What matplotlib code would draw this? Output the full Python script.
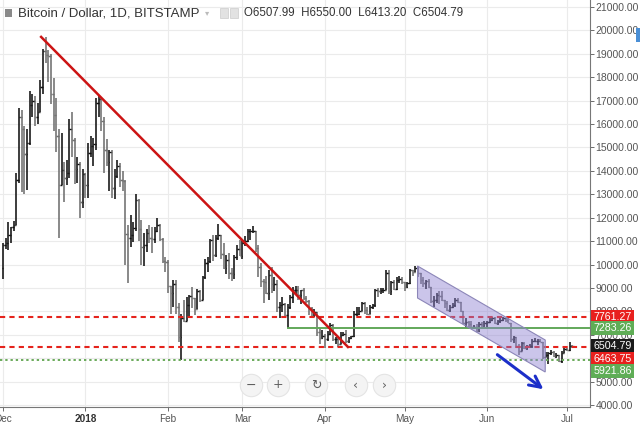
import numpy as np
import pandas as pd
import matplotlib
matplotlib.use('Agg')
import matplotlib.pyplot as plt
import matplotlib.dates as mdates
from matplotlib.patches import Polygon, Rectangle

plt.rcParams['font.family'] = ['Liberation Sans', 'DejaVu Sans']

# Daily bars, Bitstamp BTC/USD, 1 Dec 2017 .. 3 Jul 2018
dates = pd.date_range('2017-12-01', '2018-07-03', freq='D')

opens = [
    # Dec
    9850, 10850, 10900, 11250, 11600, 11700, 13600, 16300, 15800, 14700, 15200, 16800, 17000, 16300, 16500, 17600,
    19100, 18950, 18900, 17300, 16400, 15500, 13400, 14050, 13700, 13900, 15800, 15300, 14100, 14300, 12650,
    # Jan
    13850, 13400, 14750, 15050, 15150, 16900, 17050, 16150, 14900, 14400, 14800, 13250, 13800, 14200, 13600, 13550,
    11300, 11150, 11250, 11550, 12750, 11500, 10750, 10850, 11350, 11150, 11100, 11450, 11700, 11100, 10150,
    # Feb
    10100, 9100, 8800, 9150, 8200, 6900, 7700, 7600, 8250, 8650, 8550, 8100, 8850, 8500, 9450, 10050,
    10150, 11050, 10400, 11150, 11250, 10450, 9850, 10200, 9650, 9600, 10300, 10650,
    # Mar
    10350, 10900, 11000, 11450, 11450, 11450, 10700, 9900, 9300, 9250, 8800, 9550, 9150, 9150, 8200, 8250,
    8300, 7850, 8200, 8600, 8900, 8900, 8700, 8900, 8550, 8450, 8150, 7800, 7950, 7100, 6850,
    # Apr
    6950, 6800, 7050, 7400, 6800, 6800, 6600, 7000, 7050, 6750, 6850, 6950, 7900, 7900, 8000,
    8350, 8050, 7900, 8200, 8250, 8900, 8850, 8900, 8900, 9650, 8850, 9250, 8950, 9350, 9400,
    # May
    9250, 9050, 9200, 9750, 9700, 9850, 9650, 9350, 9200, 9300, 9050, 8450, 8500, 8700, 8650, 8500,
    8350, 8050, 8200, 8250, 8500, 8400, 8000, 7500, 7550, 7450, 7350, 7350, 7150, 7450, 7400,
    # Jun
    7500, 7550, 7650, 7700, 7500, 7600, 7650, 7700, 7650, 7500, 6800, 6900, 6500, 6300, 6650,
    6450, 6500, 6500, 6750, 6750, 6750, 6700, 6050, 6150, 6200, 6250, 6100, 6150, 5870, 6200,
    # Jul
    6400, 6350, 6507.99,
]
highs = [
    10900, 11150, 11800, 11600, 11850, 13900, 16700, 16600, 15900, 15800, 17400, 17300, 17200, 16900, 17900, 19200,
    19700, 19150, 19000, 17950, 17100, 15800, 15600, 14400, 14450, 16200, 16500, 15400, 14600, 14400, 14100,
    13900, 15200, 15500, 15400, 17100, 17250, 17100, 16300, 15350, 14900, 14900, 14100, 14450, 14350, 14000, 13600,
    11700, 12100, 11800, 13000, 12800, 11900, 11350, 11500, 11700, 11600, 11600, 12000, 11750, 11150, 10300,
    10200, 9100, 9350, 9350, 8350, 7900, 8500, 8600, 8700, 9050, 8550, 8950, 8900, 9500, 10250, 10300,
    11100, 11250, 11250, 11750, 11250, 10900, 10400, 10500, 9850, 10400, 10850, 11050,
    11000, 11200, 11500, 11500, 11650, 11450, 10850, 10050, 9400, 9500, 9750, 9900, 9450, 9350, 8400, 8600,
    8350, 8300, 8700, 9050, 9100, 9100, 8900, 9000, 8650, 8500, 8200, 8100, 7950, 7300, 7200,
    7050, 7150, 7500, 7450, 6900, 6850, 7100, 7100, 7200, 6900, 6950, 8000, 8200, 8200, 8400,
    8400, 8200, 8250, 8300, 8950, 9000, 9000, 9000, 9750, 9750, 9300, 9350, 9450, 9500, 9450,
    9250, 9250, 9800, 9750, 9950, 9900, 9650, 9450, 9350, 9400, 9050, 8650, 8800, 8850, 8850, 8500,
    8450, 8250, 8350, 8550, 8550, 8400, 8000, 7700, 7600, 7600, 7400, 7450, 7550, 7550, 7600,
    7600, 7700, 7750, 7750, 7650, 7700, 7750, 7700, 7700, 7500, 6950, 6900, 6600, 6700, 6700,
    6550, 6600, 6800, 6850, 6800, 6800, 6700, 6250, 6250, 6350, 6300, 6200, 6150, 6300, 6500,
    6450, 6700, 6550.00,
]
lows = [
    9400, 10650, 10600, 10900, 11450, 11700, 13500, 13100, 13000, 13200, 15100, 16300, 15900, 16000, 16500, 17300,
    18600, 17800, 16850, 15700, 14800, 11150, 13400, 12650, 13400, 13700, 14600, 13450, 13500, 12000, 12400,
    12850, 12850, 14600, 14200, 14900, 16300, 15700, 13900, 14200, 13150, 12850, 12800, 13700, 13300, 13150, 10000,
    9200, 10750, 10950, 11450, 11000, 10000, 9950, 10550, 10900, 10500, 10900, 11400, 11000, 10050, 9700,
    8800, 7900, 8200, 7900, 6700, 5920, 7550, 7600, 7750, 8150, 7850, 8100, 8400, 8500, 9400, 9700,
    10050, 10150, 10300, 11050, 10250, 9800, 9600, 9400, 9300, 9400, 10200, 10350,
    10250, 10800, 10950, 11050, 11350, 10550, 9450, 9050, 8350, 8750, 8500, 8800, 8850, 7950, 7700, 7950,
    7750, 7283, 8100, 8350, 8750, 8500, 8300, 8500, 8350, 7850, 7750, 7750, 6950, 6600, 6800,
    6450, 6750, 7000, 6750, 6600, 6480, 6600, 6950, 6650, 6650, 6800, 6900, 7800, 7850, 8000,
    7900, 7850, 7900, 8100, 8200, 8600, 8750, 8800, 8900, 8750, 8700, 8900, 8900, 9200, 9150,
    8850, 9000, 9150, 9500, 9700, 9450, 9150, 9050, 8950, 9000, 8350, 8200, 8350, 8300, 8450, 8150,
    8000, 7950, 8150, 8200, 8350, 7950, 7450, 7300, 7350, 7350, 7250, 7100, 7100, 7300, 7350,
    7350, 7500, 7600, 7450, 7400, 7500, 7600, 7550, 7500, 6700, 6650, 6450, 6150, 6300, 6400,
    6350, 6450, 6450, 6700, 6550, 6700, 5950, 6050, 5750, 6150, 6050, 6000, 5850, 5800, 6200,
    6300, 6300, 6413.20,
]
closes = [
    10850, 10900, 11250, 11600, 11700, 13600, 16300, 15800, 14700, 15200, 16800, 17000, 16300, 16500, 17600, 19100,
    18950, 18900, 17300, 16400, 15500, 13400, 14050, 13700, 13900, 15800, 15300, 14100, 14300, 12650, 13850,
    13400, 14750, 15050, 15150, 16900, 17050, 16150, 14900, 14400, 14800, 13250, 13800, 14200, 13600, 13550, 11300,
    11150, 11250, 11550, 12750, 11500, 10750, 10850, 11350, 11150, 11100, 11450, 11700, 11100, 10150, 10100,
    9100, 8800, 9150, 8200, 6900, 7700, 7600, 8250, 8650, 8550, 8100, 8850, 8500, 9450, 10050, 10150,
    11050, 10400, 11150, 11250, 10450, 9850, 10200, 9650, 9600, 10300, 10650, 10350,
    10900, 11000, 11450, 11450, 11450, 10700, 9900, 9300, 9250, 8800, 9550, 9150, 9150, 8200, 8250, 8300,
    7850, 8200, 8600, 8900, 8900, 8700, 8900, 8550, 8450, 8150, 7800, 7950, 7100, 6850, 6950,
    6800, 7050, 7400, 6800, 6800, 6600, 7000, 7050, 6750, 6850, 6950, 7900, 7900, 8000, 8350,
    8050, 7900, 8200, 8250, 8900, 8850, 8900, 8900, 9650, 8850, 9250, 8950, 9350, 9400, 9250,
    9050, 9200, 9750, 9700, 9850, 9650, 9350, 9200, 9300, 9050, 8450, 8500, 8700, 8650, 8500, 8350,
    8050, 8200, 8250, 8500, 8400, 8000, 7500, 7550, 7450, 7350, 7350, 7150, 7450, 7400, 7500,
    7550, 7650, 7700, 7500, 7600, 7650, 7700, 7650, 7500, 6800, 6900, 6500, 6300, 6650, 6450,
    6500, 6500, 6750, 6750, 6750, 6700, 6050, 6150, 6200, 6250, 6100, 6150, 5870, 6200, 6400,
    6350, 6507.99, 6504.79,
]

# drawings on the chart
trend_dates = ['2017-12-15 00:00', '2018-04-10 00:00']
trend_prices = [19760, 6440]
channel_dates = ['2018-05-05 20:00', '2018-06-22 20:00']
channel_upper = [9936, 6775]
channel_lower = [8569, 5408]
arrow_dates = ['2018-06-04 00:00', '2018-06-23 00:00']
arrow_prices = [6220, 4600]
green_line_start = '2018-03-18'

levels = [7761.27, 7283.26, 6504.79, 6463.75, 5921.86]
level_colors = ['#e8201e', '#5fad56', '#1a1a1a', '#e8201e', '#5fad56']
label_pos = [7761.27, 7283.26, 6504.79, 5960, 5440]   # where the axis tags sit (stacked)

month_ticks = ['2017-12-01', '2018-01-01', '2018-02-01', '2018-03-01', '2018-04-01',
               '2018-05-01', '2018-06-01', '2018-07-01']
month_labels = ['Dec', '2018', 'Feb', 'Mar', 'Apr', 'May', 'Jun', 'Jul']


def dnum(lst):
    return mdates.date2num(pd.to_datetime(lst, format='mixed'))


fig = plt.figure(figsize=(6.4, 4.26), dpi=100)
ax = fig.add_axes([0, 19 / 426, 590 / 640, 407 / 426])

x = mdates.date2num(dates)
o, h, l, c = map(np.asarray, (opens, highs, lows, closes))
cols = np.where(c >= o, '#111111', '#707070')
ax.vlines(x, l, h, colors=cols, lw=1.15, zorder=3)
ax.hlines(o, x - 0.55, x, colors=cols, lw=1.0, zorder=3)
ax.hlines(c, x, x + 0.55, colors=cols, lw=1.0, zorder=3)

x0 = mdates.date2num(pd.Timestamp('2017-11-29 21:00'))
x1 = mdates.date2num(pd.Timestamp('2018-07-09 16:00'))
ax.set_xlim(x0, x1)
ax.set_ylim(3913, 21299)

# horizontal levels
ax.axhline(levels[0], color='#e5231c', lw=1.5, dashes=(2.5, 2), zorder=4)
gs = mdates.date2num(pd.Timestamp(green_line_start))
ax.axhline(levels[1], xmin=(gs - x0) / (x1 - x0), color='#62a85a', lw=1.4, zorder=4)
ax.axhline(levels[3], color='#e5231c', lw=1.5, dashes=(2.5, 2), zorder=4)
ax.axhline(levels[4], color='#6aaa5a', lw=1.4, dashes=(1.2, 1.5), zorder=4)

# trend line
ax.plot(dnum(trend_dates), trend_prices, color='#cc1414', lw=1.8, zorder=5, solid_capstyle='butt')

# falling channel
cd = dnum(channel_dates)
poly = Polygon([(cd[0], channel_upper[0]), (cd[1], channel_upper[1]),
                (cd[1], channel_lower[1]), (cd[0], channel_lower[0])],
               closed=True, fc=(0.55, 0.5, 0.82, 0.45), ec='#8c86b8', lw=0.8, zorder=4)
ax.add_patch(poly)

# arrow
ad = dnum(arrow_dates)
ax.annotate('', xy=(ad[1], arrow_prices[1]), xytext=(ad[0], arrow_prices[0]),
            arrowprops=dict(arrowstyle='->,head_length=0.8,head_width=0.4',
                            color='#1c2fc9', lw=2.2), zorder=6, annotation_clip=False)

# axes styling
ax.set_yticks(np.arange(4000, 21001, 1000))
ax.yaxis.tick_right()
ax.yaxis.set_major_formatter(matplotlib.ticker.FuncFormatter(lambda v, p: f'{v:.2f}'))
ax.tick_params(axis='y', labelsize=7.5, colors='#555555', length=3, width=0.6, pad=1)
ax.set_xticks(dnum(month_ticks))
ax.set_xticklabels(month_labels)
ax.tick_params(axis='x', labelsize=7.2, colors='#555555', length=3, width=0.6, pad=2)
ax.get_xticklabels()[1].set_fontweight('bold')
ax.get_xticklabels()[1].set_color('#333333')
ax.grid(True, color='#ebebeb', lw=0.8, zorder=0)
for s in ['top', 'left']:
    ax.spines[s].set_visible(False)
for s in ['right', 'bottom']:
    ax.spines[s].set_color('#777777')
    ax.spines[s].set_linewidth(0.8)

# price tags on the axis
for v, col, yp in zip(levels, level_colors, label_pos):
    ax.annotate(f'{v:.2f}', xy=(1, yp), xycoords=('axes fraction', 'data'),
                xytext=(2.4, 0), textcoords='offset points', va='center', ha='left',
                fontsize=7.7, color='white', zorder=10, annotation_clip=False,
                bbox=dict(boxstyle='square,pad=0.2', fc=col, ec='none'))

# header
fig.patches.append(Rectangle((5 / 640, 1 - 17 / 426), 7 / 640, 8 / 426, transform=fig.transFigure,
                             fc='#8a8a8a', ec='none'))
fig.text(18 / 640, 1 - 13 / 426, 'Bitcoin / Dollar, 1D, BITSTAMP', fontsize=9.5, color='#333333',
         va='center')
fig.text(205 / 640, 1 - 13 / 426, '▾', fontsize=6, color='#bbbbbb', va='center',
         family=['DejaVu Sans'])
for px in (220, 230):
    fig.patches.append(Rectangle((px / 640, 1 - 18 / 426), 8 / 640, 10 / 426, transform=fig.transFigure,
                                 fc='#e2e2e2', ec='#cccccc', lw=0.5))
fig.text(244 / 640, 1 - 13 / 426, 'O6507.99  H6550.00  L6413.20  C6504.79', fontsize=8.3,
         color='#333333', va='center')
fig.patches.append(Rectangle((636 / 640, 1 - 42 / 426), 4 / 640, 14 / 426, transform=fig.transFigure,
                             fc='#4a8fd6', ec='none'))

# navigation buttons
btn_x = [251, 278, 316, 356, 384]
btn_txt = ['−', '+', '↻', '‹', '›']
bx = np.array(btn_x) / 590
by = np.full(len(bx), 22 / 407)
ax.scatter(bx, by, s=260, transform=ax.transAxes, fc='#f4f4f4', ec='#e4e4e4', lw=0.8, zorder=8,
           clip_on=False)
for xx, yy, t in zip(bx, by, btn_txt):
    ax.text(xx, yy, t, transform=ax.transAxes, ha='center', va='center', fontsize=9,
            color='#606060', zorder=9, family=['DejaVu Sans'])

fig.savefig('out.png', dpi=100)
